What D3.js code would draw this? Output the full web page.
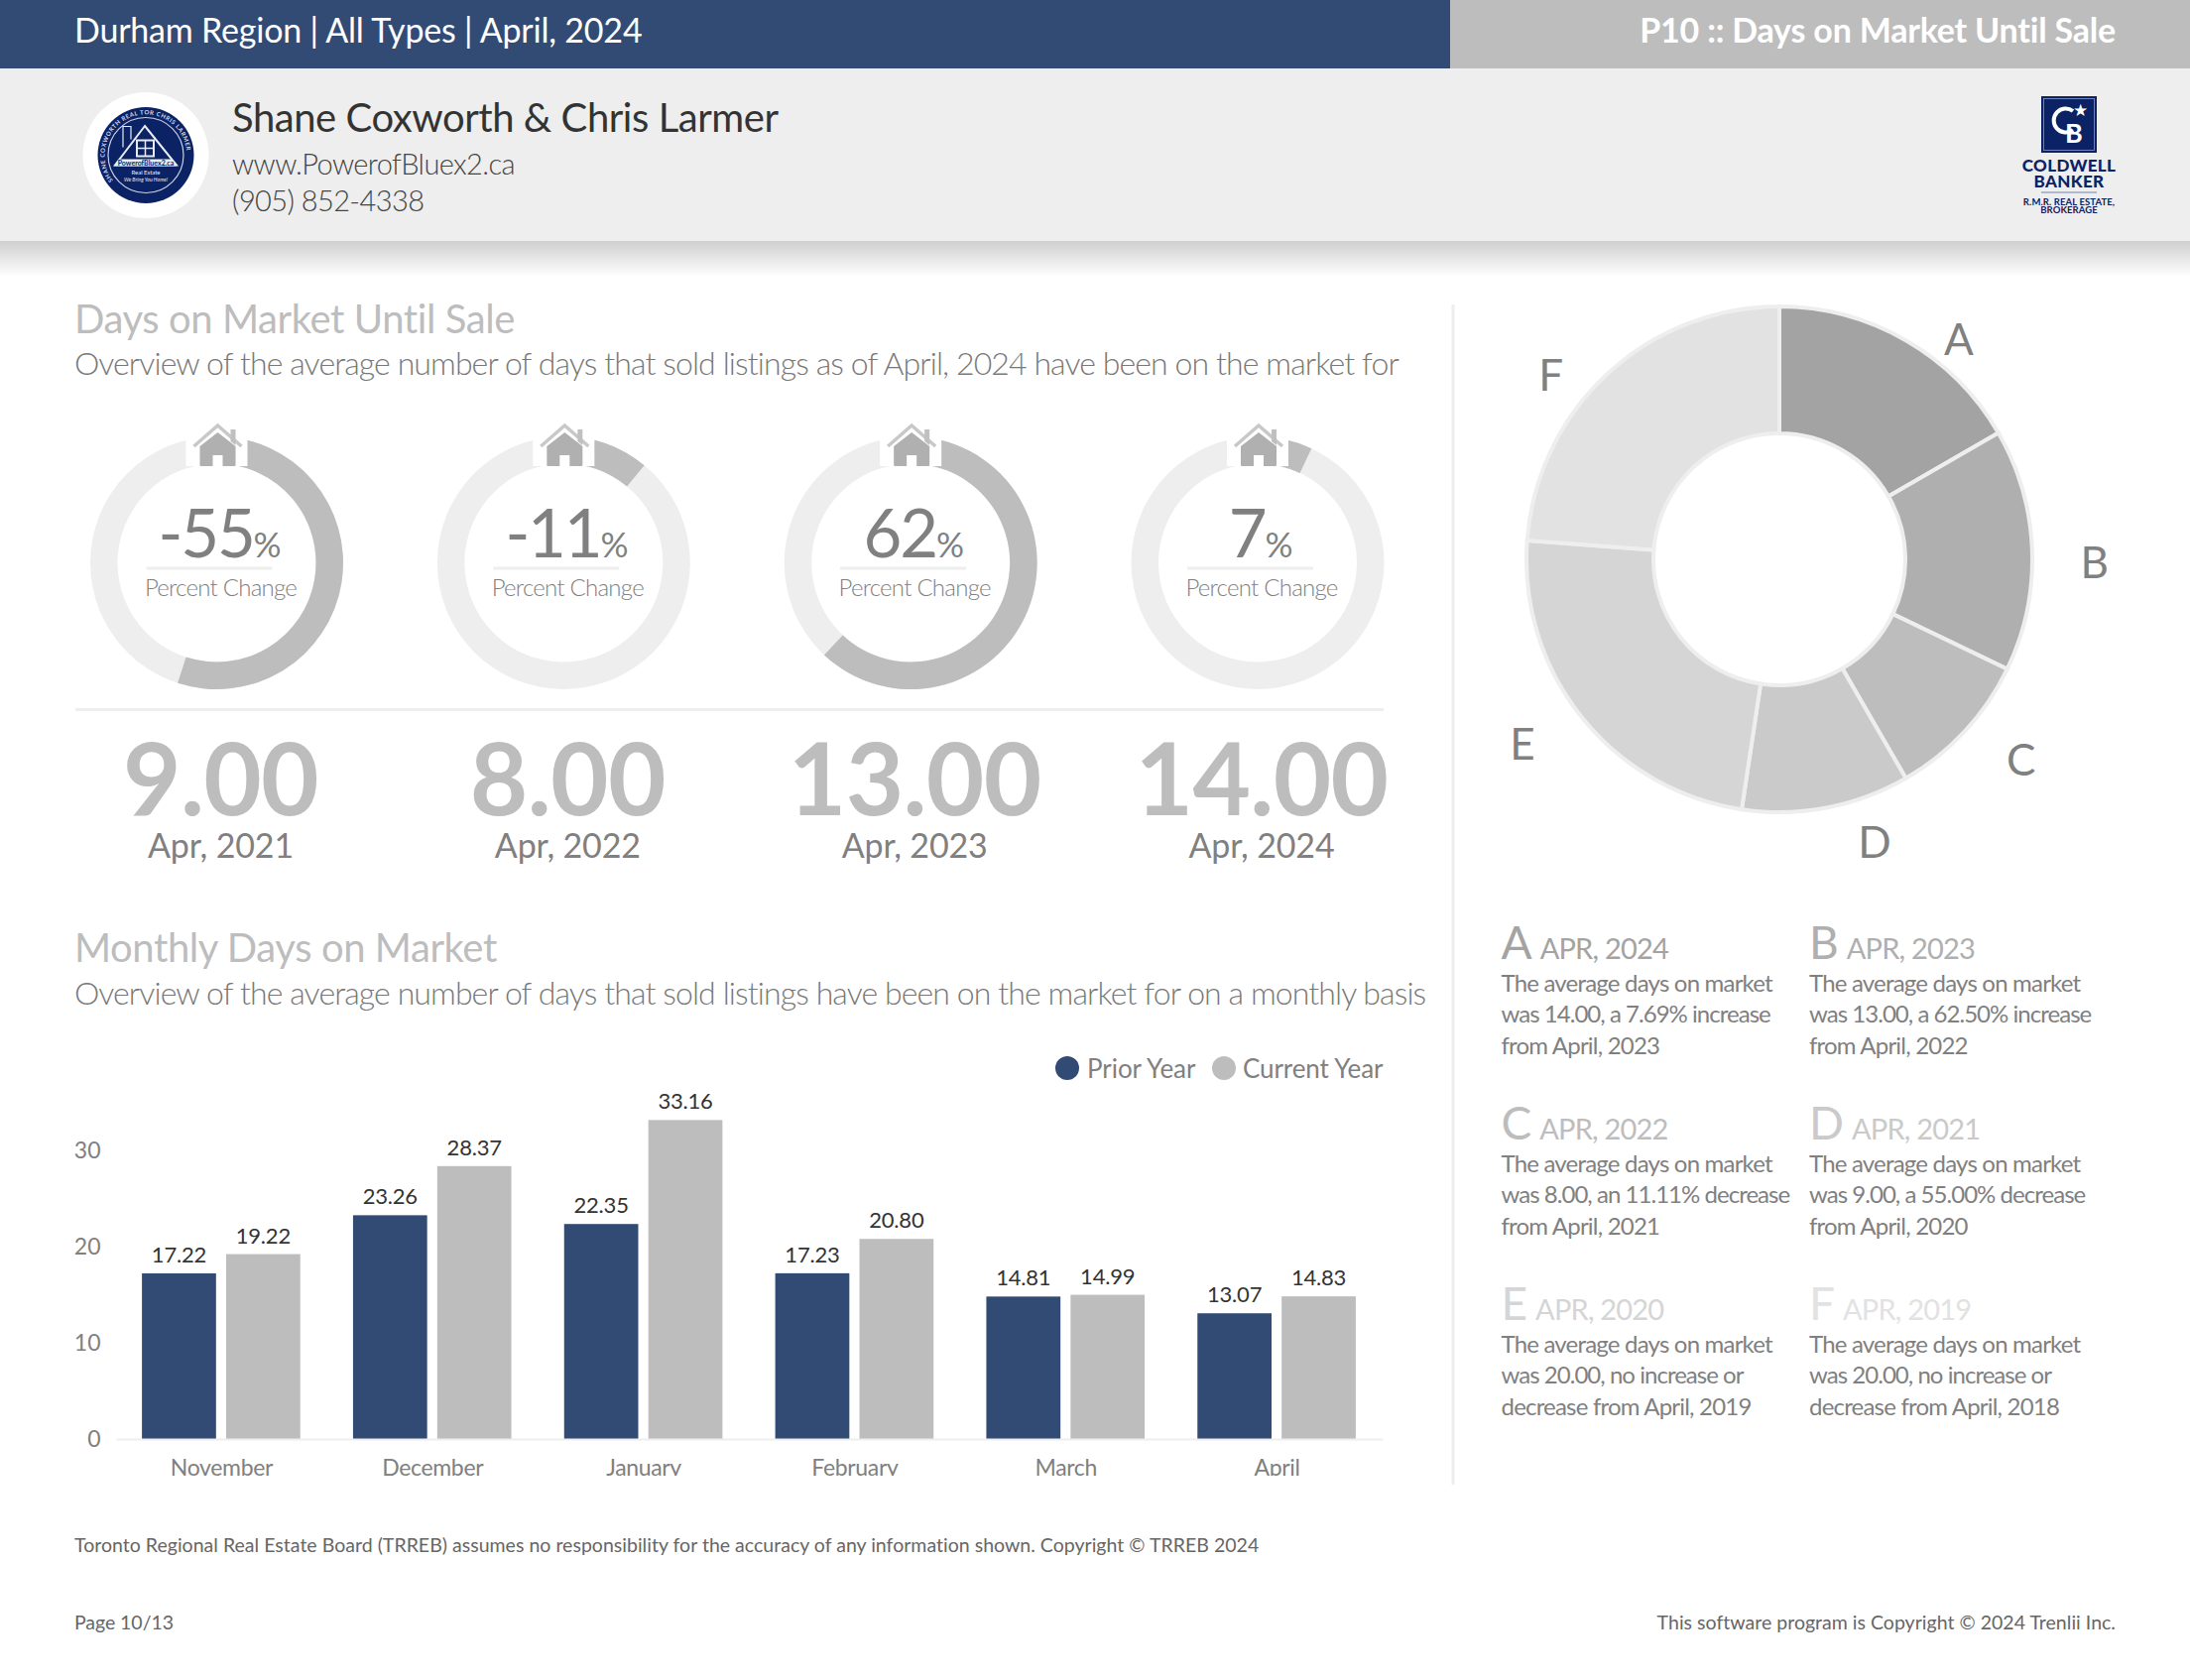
<!DOCTYPE html>
<html><head><meta charset="utf-8">
<script src="https://cdnjs.cloudflare.com/ajax/libs/d3/7.8.5/d3.min.js"></script>
<style>html,body{margin:0;padding:0;background:#fff}svg{display:block}text{font-family:Lato,sans-serif}</style>
</head><body><div id="c"></div>
<script>
const months=["November","December","January","February","March","April"];
const priorYear=[17.22,23.26,22.35,17.23,14.81,13.07];
const currentYear=[19.22,28.37,33.16,20.80,14.99,14.83];
const seriesNames=["Prior Year","Current Year"];
const yTicks=[0,10,20,30];
const ringValues=[-55,-11,62,7];
const ringYears=["Apr, 2021","Apr, 2022","Apr, 2023","Apr, 2024"];
const ringDays=["9.00","8.00","13.00","14.00"];
const pieLetters=["A","B","C","D","E","F"];
const pieValues=[14,13,8,9,20,20];
const pieColors=["#a3a3a3","#afafaf","#bdbdbd","#cacaca","#d5d5d5","#e2e2e2"];
const pieHeads=["APR, 2024","APR, 2023","APR, 2022","APR, 2021","APR, 2020","APR, 2019"];
const pieNotes=[
["The average days on market","was 14.00, a 7.69% increase","from April, 2023"],
["The average days on market","was 13.00, a 62.50% increase","from April, 2022"],
["The average days on market","was 8.00, an 11.11% decrease","from April, 2021"],
["The average days on market","was 9.00, a 55.00% decrease","from April, 2020"],
["The average days on market","was 20.00, no increase or","decrease from April, 2019"],
["The average days on market","was 20.00, no increase or","decrease from April, 2018"]];

const NAVY="#324b74",GREY="#bdbdbd",PALE="#eeeeee",MID="#808080",LOGO="#0b2265";
const svg=d3.select("#c").append("svg").attr("width",2208).attr("height",1694);
const defs=svg.append("defs");
const g=defs.append("linearGradient").attr("id","sh").attr("x1",0).attr("x2",0).attr("y1",0).attr("y2",1);
g.append("stop").attr("offset",0).attr("stop-color","#cfcfcf");
g.append("stop").attr("offset",1).attr("stop-color","#ffffff");
defs.append("clipPath").attr("id","axclip").append("rect").attr("x",0).attr("y",1400).attr("width",1464).attr("height",88);
defs.append("path").attr("id","logoRing").attr("d","M-29,30A41.5,41.5 0 1 1 29,30");

function T(p,x,y,s,size,fill,o={}){
  const t=p.append("text").attr("x",x).attr("y",y).text(s).attr("font-size",size).attr("fill",fill)
   .attr("font-weight",o.w||400).attr("text-anchor",o.a||"start");
  if(o.ls!==undefined)t.attr("letter-spacing",o.ls);
  return t;
}
// Header
svg.append("rect").attr("width",1462).attr("height",69).attr("fill",NAVY);
svg.append("rect").attr("x",1462).attr("width",746).attr("height",69).attr("fill",GREY);
svg.append("rect").attr("y",69).attr("width",2208).attr("height",174).attr("fill",PALE);
svg.append("rect").attr("y",243).attr("width",2208).attr("height",36).attr("fill","url(#sh)");
T(svg,75,43,"Durham Region | All Types | April, 2024",34,"#fff",{ls:-0.2});
T(svg,2133,43,"P10 :: Days on Market Until Sale",34,"#fff",{a:"end",w:700,ls:-0.2});
T(svg,234,133,"Shane Coxworth & Chris Larmer",40,"#333333",{ls:-0.45});
T(svg,234,176,"www.PowerofBluex2.ca",29,"#444444",{w:300,ls:-0.6});
T(svg,234,213,"(905) 852-4338",29,"#444444",{w:300,ls:-0.6});
// Agent logo
const lg=svg.append("g").attr("transform","translate(147,156.5)");
lg.append("circle").attr("r",63.5).attr("fill","#fff");
lg.append("circle").attr("r",48.5).attr("fill",LOGO);
lg.append("circle").attr("r",38).attr("fill","none").attr("stroke","#c9d1e6").attr("stroke-width",1.2);
lg.append("path").attr("d","M-1,-29.5L31,10H-31Z").attr("fill","none").attr("stroke","#e8ecf5").attr("stroke-width",2);
lg.append("path").attr("d","M-23,-8V-29H-15V-16").attr("fill","none").attr("stroke","#e8ecf5").attr("stroke-width",1.2);
lg.append("rect").attr("x",-9).attr("y",-15).attr("width",17).attr("height",16).attr("fill","none").attr("stroke","#e8ecf5").attr("stroke-width",2);
lg.append("path").attr("d","M-.5,-15V1M-9,-7H8").attr("stroke","#e8ecf5").attr("stroke-width",1.5);
lg.append("path").attr("d","M-27,4H26L31,11H-32Z").attr("fill","#e8ecf5");
T(lg,0,10.5,"PowerofBluex2.ca",7,LOGO,{a:"middle",w:700});
T(lg,0,19,"Real Estate",6,"#e8ecf5",{a:"middle"});
T(lg,0,26,"We Bring You Home!",5.2,"#e8ecf5",{a:"middle"}).attr("font-style","italic");
lg.append("text").attr("font-size",6).attr("fill","#d6dcec").attr("font-weight",700).attr("letter-spacing",.6)
 .append("textPath").attr("href","#logoRing").attr("startOffset","3%").text("SHANE COXWORTH          REAL TOR          CHRIS LARMER");
// Coldwell Banker logo
const cb=svg.append("g").attr("transform","translate(2086,0)");
cb.append("rect").attr("x",-28).attr("y",97).attr("width",56).attr("height",57).attr("fill",LOGO);
cb.append("rect").attr("x",-25.5).attr("y",99.5).attr("width",51).attr("height",52).attr("fill","none").attr("stroke","#8a9bc4").attr("stroke-width",.8);
cb.append("path").attr("d","M4,112A12,12 0 1 0 4,131").attr("fill","none").attr("stroke","#fff").attr("stroke-width",4);
T(cb,5,144,"B",27,"#fff",{a:"middle",w:700});
T(cb,11,117,"★",17,"#fff",{a:"middle"});
T(cb,0,173,"COLDWELL",17,LOGO,{a:"middle",w:900,ls:.35});
T(cb,0,189,"BANKER",17,LOGO,{a:"middle",w:900,ls:.35});
cb.append("line").attr("x1",-28).attr("x2",28).attr("y1",194).attr("y2",194).attr("stroke","#6f82b0");
T(cb,0,207,"R.M.R. REAL ESTATE,",9.5,LOGO,{a:"middle",w:700,ls:.1});
T(cb,0,214.5,"BROKERAGE",9.5,LOGO,{a:"middle",w:700,ls:.1});

// Section heads
T(svg,75,336,"Days on Market Until Sale",40,GREY,{ls:-.42});
T(svg,75,378,"Overview of the average number of days that sold listings as of April, 2024 have been on the market for",32,"#787878",{w:300,ls:-.9});
T(svg,75,970,"Monthly Days on Market",40,GREY,{ls:-.42});
T(svg,75,1013,"Overview of the average number of days that sold listings have been on the market for on a monthly basis",32,"#787878",{w:300,ls:-.9});

// Rings
const ringX=d3.scalePoint().domain(ringYears).range([218.5,1268]);
const ringCy=567.5,ringOut=127.5,ringIn=100;
const pct=d3.scaleLinear().domain([0,100]).range([0,2*Math.PI]);
const arc=d3.arc().innerRadius(ringIn).outerRadius(ringOut);
ringYears.forEach((yr,i)=>{
  const cx=ringX(yr),v=Math.abs(ringValues[i]);
  const r=svg.append("g").attr("transform",`translate(${cx},${ringCy})`);
  r.append("path").attr("d",arc({startAngle:0,endAngle:2*Math.PI})).attr("fill",PALE);
  r.append("path").attr("d",arc({startAngle:0,endAngle:pct(v)})).attr("fill",GREY);
  r.append("rect").attr("x",-31).attr("y",-140).attr("width",62).attr("height",42.5).attr("fill","#fff");
  // house
  const h=r.append("g").attr("transform","translate(1,-97.5)");
  h.append("path").attr("d","M-24,-20L0,-41L24,-20").attr("fill","none").attr("stroke","#c8c8c8").attr("stroke-width",3.5);
  h.append("path").attr("d","M13,-37h5v16l-5,-4Z").attr("fill","#c0c0c0");
  h.append("path").attr("d","M-18,-1V-20L0,-34L18,-20V-1Q18,0 17,0H5V-11H-5V0H-17Q-18,0 -18,-1Z").attr("fill","#b0b0b0");
  const tx=cx+4;
  const pt=svg.append("text").attr("x",tx-2).attr("y",ringCy-6).attr("text-anchor","middle").attr("fill",MID).attr("letter-spacing",-2.2);
  pt.append("tspan").attr("font-size",67).text(ringValues[i]);
  pt.append("tspan").attr("font-size",35).text("%");
  svg.append("line").attr("x1",cx-71).attr("x2",cx+56).attr("y1",573).attr("y2",573).attr("stroke",PALE).attr("stroke-width",3);
  T(svg,tx,601,"Percent Change",24,MID,{a:"middle",w:300,ls:-.75});
  T(svg,tx,822,ringDays[i],101,GREY,{a:"middle",w:700,ls:-.7});
  T(svg,tx,865,yr,34,MID,{a:"middle",ls:-.15});
});
svg.append("line").attr("x1",76).attr("x2",1395).attr("y1",715.5).attr("y2",715.5).attr("stroke",PALE).attr("stroke-width",3);
svg.append("line").attr("x1",1465).attr("x2",1465).attr("y1",307).attr("y2",1497).attr("stroke",PALE).attr("stroke-width",3);

// Bars
const x0=d3.scaleBand().domain(months).range([116.5,1393.5]).paddingInner(.25).paddingOuter(.125);
const x1=d3.scaleBand().domain(seriesNames).range([0,x0.bandwidth()]).paddingInner(.12);
const y=d3.scaleLinear().domain([0,30]).range([1451,1160]);
const rows=months.map((m,i)=>({m,vals:[priorYear[i],currentYear[i]]}));
rows.forEach(d=>{
  d.vals.forEach((v,j)=>{
    const bx=x0(d.m)+x1(seriesNames[j]);
    svg.append("rect").attr("x",bx).attr("y",y(v)).attr("width",x1.bandwidth()).attr("height",y(0)-y(v)).attr("fill",j?GREY:NAVY);
    T(svg,bx+x1.bandwidth()/2,y(v)-11,v.toFixed(2),22,"#333",{a:"middle",ls:-.2});
  });
});
const clipG=svg.append("g").attr("clip-path","url(#axclip)");
const axB=clipG.append("g").attr("transform","translate(0,1451)")
 .call(d3.axisBottom(d3.scaleBand().domain(months).range([117,1394])).tickSize(0).tickPadding(21));
axB.select(".domain").attr("stroke",PALE).attr("stroke-width",2);
axB.selectAll("text").attr("font-size",23).attr("font-family","Lato").attr("fill",MID).attr("letter-spacing",-.35);
const axL=svg.append("g").attr("transform","translate(101.5,0.5)").call(d3.axisLeft(y).tickValues(yTicks).tickSize(0).tickPadding(0));
axL.select(".domain").remove();
axL.selectAll("text").attr("font-size",23).attr("font-family","Lato").attr("fill",MID);
// Legend
svg.append("circle").attr("cx",1076).attr("cy",1077).attr("r",12).attr("fill",NAVY);
T(svg,1096,1087,seriesNames[0],26,MID,{ls:-.05});
svg.append("circle").attr("cx",1234).attr("cy",1077).attr("r",12).attr("fill",GREY);
T(svg,1253,1087,seriesNames[1],26,MID,{ls:-.1});

// Pie
const pie=d3.pie().sort(null)(pieValues);
const pa=d3.arc().innerRadius(127).outerRadius(255);
const pg=svg.append("g").attr("transform","translate(1794,564)");
pg.selectAll("path").data(pie).join("path").attr("d",pa).attr("fill",(d,i)=>pieColors[i]).attr("stroke",PALE).attr("stroke-width",4);
const la=d3.arc().innerRadius(312).outerRadius(312);
const labelShift=[[25,49],[6,15],[15,-10],[38,-21],[-15,-8],[-18,43]];
pg.selectAll("text.l").data(pie).join("text").attr("class","l")
 .attr("transform",(d,i)=>{const c=la.centroid(d);return `translate(${c[0]+labelShift[i][0]},${c[1]+labelShift[i][1]})`})
 .attr("text-anchor","middle").attr("dy","0.35em").attr("font-size",44).attr("fill",MID).text((d,i)=>pieLetters[i]);

// Notes
const colX=d3.scalePoint().domain([0,1]).range([1513.5,1824]);
const rowY=d3.scalePoint().domain([0,1,2]).range([967,1331]);
pieLetters.forEach((L,i)=>{
  const cx=colX(i%2),ry=rowY(Math.floor(i/2));
  const c=pieColors[i];
  const t=svg.append("text").attr("x",cx).attr("y",ry).attr("fill",c);
  t.append("tspan").attr("font-size",46).text(L);
  t.append("tspan").attr("font-size",29).attr("dx",8).attr("letter-spacing",-.8).text(pieHeads[i]);
  pieNotes[i].forEach((ln,k)=>T(svg,cx,ry+32.5+k*31.5,ln,24,MID,{ls:k===1?-.97:-.8}));
});
// Footer
T(svg,75,1565,"Toronto Regional Real Estate Board (TRREB) assumes no responsibility for the accuracy of any information shown. Copyright © TRREB 2024",19.5,"#666",{ls:.02});
T(svg,75,1643,"Page 10/13",19.5,"#666",{ls:-.05});
T(svg,2133,1643,"This software program is Copyright © 2024 Trenlii Inc.",19.5,"#666",{a:"end",ls:.02});
</script></body></html>
